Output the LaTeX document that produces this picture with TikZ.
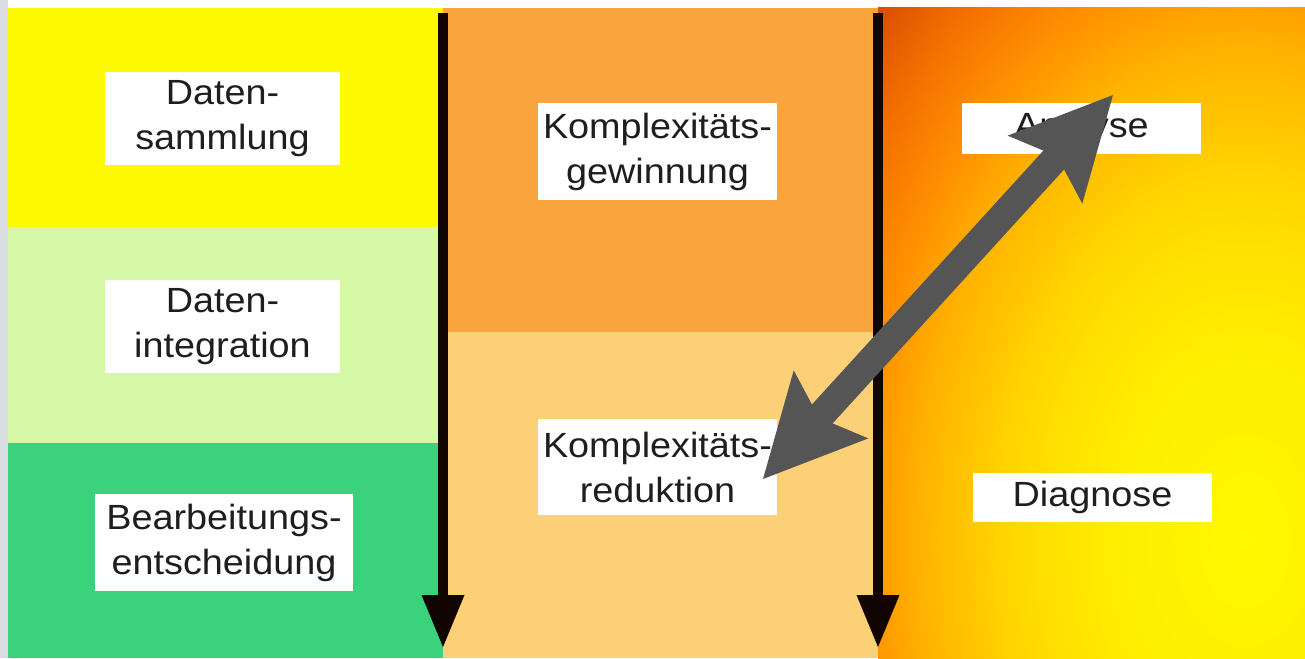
\documentclass[tikz,border=0pt]{standalone}
\usepackage{fontspec}
\setmainfont{Liberation Sans}[FakeStretch=1.08]
\usetikzlibrary{arrows.meta}
\definecolor{cYellow}{HTML}{FEFA00}
\definecolor{cLightGreen}{HTML}{D4F8A6}
\definecolor{cGreen}{HTML}{3AD27A}
\definecolor{cOrange}{HTML}{FAA43E}
\definecolor{cLightOrange}{HTML}{FBD077}
\definecolor{cGrayStrip}{HTML}{D9DCE1}
\definecolor{cArrowGray}{HTML}{555555}
\definecolor{cLine}{HTML}{120400}
\definecolor{cText}{HTML}{1E1E1E}
\definecolor{gA}{HTML}{FFF800}
\definecolor{gB}{HTML}{FFEE00}
\definecolor{gC}{HTML}{FFD800}
\definecolor{gD}{HTML}{FFB400}
\definecolor{gE}{HTML}{FF8E00}
\definecolor{gF}{HTML}{F26E00}
\definecolor{gG}{HTML}{D64800}
\pgfdeclareradialshading{rightglow}{\pgfpoint{0bp}{0bp}}{color(0bp)=(gA); color(5bp)=(gB); color(9bp)=(gC); color(12.5bp)=(gD); color(15bp)=(gE); color(17.5bp)=(gF); color(20bp)=(gG); color(50bp)=(gG)}
\tikzset{
  lbl/.style={fill=white, text=cText, align=center, inner sep=0pt,
    font=\fontsize{35}{45}\selectfont},
  flowline/.style={draw=cLine, line width=10pt,
    -{Triangle[length=52pt,width=43pt,line width=0pt]}},
  linkarrow/.style={draw=cArrowGray, line width=28pt,
    {Stealth[length=101pt,width=101pt,inset=18pt,line width=0pt]}-{Stealth[length=101pt,width=101pt,inset=18pt,line width=0pt]}}
}
\begin{document}
\begin{tikzpicture}[x=1pt,y=-1pt]
\useasboundingbox (0,0) rectangle (1305,658);
\fill[white] (0,0) rectangle (1305,658);
\fill[cGrayStrip] (0,0) rectangle (8,658);
% left column
\fill[cYellow] (8,8) rectangle (443,227);
\fill[cLightGreen] (8,227) rectangle (443,443);
\fill[cGreen] (8,443) rectangle (443,658);
% middle column
\fill[cOrange] (443,8) rectangle (878,332);
\fill[cLightOrange] (443,332) rectangle (878,658);
% right column
\begin{scope}
  \clip (878,8) rectangle (1305,658);
  \shade[shading=rightglow] (1245,540) ellipse [x radius=649, y radius=972.5];
\end{scope}
% labels
\node[lbl, minimum width=235pt, minimum height=93pt] (ds) at (222.5,118.5) {Daten-\\sammlung};
\node[lbl, minimum width=235pt, minimum height=93pt] (di) at (222.5,326.5) {Daten-\\integration};
\node[lbl, minimum width=258pt, minimum height=97pt] (be) at (224,542.5) {Bearbeitungs-\\entscheidung};
\node[lbl, minimum width=239pt, minimum height=97pt] (kg) at (657.5,151.5) {Komplexitäts-\\gewinnung};
\node[lbl, minimum width=239pt, minimum height=96pt] (kr) at (657.5,467) {Komplexitäts-\\reduktion};
\node[lbl, minimum width=239pt, minimum height=51pt] (an) at (1081.5,128.5) {Analyse};
\node[lbl, minimum width=239pt, minimum height=49pt] (dg) at (1092.5,497.5) {Diagnose};
% flow arrows
\coordinate (f1s) at (443,13);
\coordinate (f1e) at (443,647);
\coordinate (f2s) at (878,13);
\coordinate (f2e) at (878,647);
\draw[flowline] (f1s) -- (f1e);
\draw[flowline] (f2s) -- (f2e);
% link arrow
\coordinate (tipA) at (1113,95);
\coordinate (tipR) at (763,479);
\draw[linkarrow] (tipR) -- (tipA);
\end{tikzpicture}
\end{document}
